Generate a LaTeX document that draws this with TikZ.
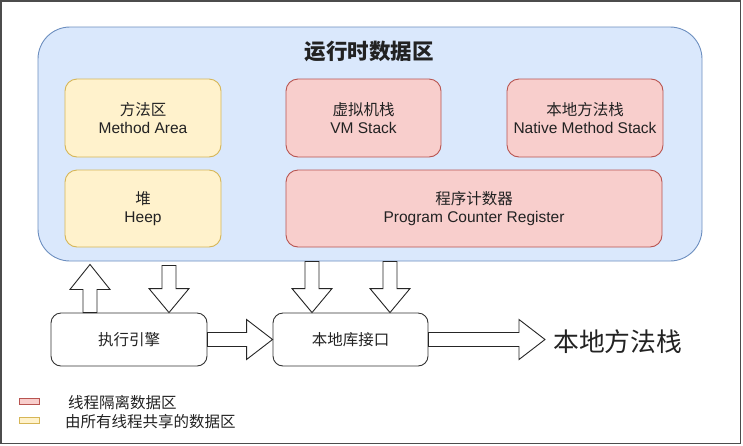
\documentclass[tikz,border=0pt]{standalone}
\usepackage{fontspec}
\setmainfont{Liberation Sans}
\newfontfamily\cjk{Noto Sans CJK SC}
\usetikzlibrary{calc}
\definecolor{bluefill}{HTML}{DAE8FC}
\definecolor{blueline}{HTML}{6C8EBF}
\definecolor{yelfill}{HTML}{FFF2CC}
\definecolor{yelline}{HTML}{D6B656}
\definecolor{pnkfill}{HTML}{F8CECC}
\definecolor{pnkline}{HTML}{B85450}
\definecolor{textc}{HTML}{222222}
\tikzset{
  box/.style={draw, rounded corners=12pt, line width=0.9pt, inner sep=0pt, align=center,
    font=\fontsize{15.5}{18}\selectfont, text=textc},
  yel/.style={box, fill=yelfill, draw=yelline, minimum width=156pt, minimum height=78pt},
  pnk/.style={box, fill=pnkfill, draw=pnkline, minimum height=78pt},
  wht/.style={box, fill=white, draw=black!80, rounded corners=10pt, minimum width=156pt, minimum height=53pt},
  blockarrow/.style={draw=black!85, fill=white, line width=0.9pt, line join=miter},
  legbox/.style={draw, line width=0.8pt, inner sep=0pt, minimum width=20pt, minimum height=6pt},
  legtext/.style={anchor=west, inner sep=0pt, font=\fontsize{15.5}{18}\selectfont\cjk, text=textc}
}
\newcommand\barrowdn[2]{\draw[blockarrow] ($(#1)+(-7,0)$) -- ($(#1)+(7,0)$) -- ($(#2)+(7,-24)$) -- ($(#2)+(20,-24)$) -- (#2) -- ($(#2)+(-20,-24)$) -- ($(#2)+(-7,-24)$) -- cycle;}
\newcommand\barrowup[2]{\draw[blockarrow] ($(#1)+(-7,0)$) -- ($(#1)+(7,0)$) -- ($(#2)+(7,25)$) -- ($(#2)+(20,25)$) -- (#2) -- ($(#2)+(-20,25)$) -- ($(#2)+(-7,25)$) -- cycle;}
\newcommand\barrowrt[2]{\draw[blockarrow] ($(#1)+(0,-7)$) -- ($(#2)+(-26,-7)$) -- ($(#2)+(-26,-20)$) -- (#2) -- ($(#2)+(-26,20)$) -- ($(#2)+(-26,7)$) -- ($(#1)+(0,7)$) -- cycle;}
\begin{document}
\begin{tikzpicture}[x=1pt, y=-1pt]
\useasboundingbox (0,0) rectangle (743,445);
\draw[line width=1.2pt, draw=black!70] (1,1) rectangle (740.5,443.5);

% runtime data area
\node[draw=blueline, fill=bluefill, line width=0.9pt, rounded corners=32pt, minimum width=664pt, minimum height=234pt, inner sep=0pt] (run) at (370,144) {};
\node[inner sep=0pt, font=\fontsize{21.5}{24}\selectfont\cjk\bfseries, text=textc] (title) at (369,51) {运行时数据区};

\node[yel] (ma) at (143,118) {{\cjk 方法区}\\Method Area};
\node[pnk, minimum width=155pt] (vm) at (363.5,118) {{\cjk 虚拟机栈}\\VM Stack};
\node[pnk, minimum width=156pt] (nms) at (585,118) {{\cjk 本地方法栈}\\Native Method Stack};
\node[yel, minimum height=77pt] (heap) at (143,208.5) {{\cjk 堆}\\Heep};
\node[pnk, minimum width=376pt, minimum height=77pt] (pcr) at (474,208.5) {{\cjk 程序计数器}\\Program Counter Register};

% bottom boxes
\node[wht] (exec) at (129,339.5) {\cjk 执行引擎};
\node[wht, minimum width=155pt] (lib) at (350.5,339.5) {\cjk 本地库接口};
\node[inner sep=0pt, anchor=west, font=\fontsize{25.8}{30}\selectfont\cjk, text=textc] (nlabel) at (553,342) {本地方法栈};

% connector end points
\coordinate (u1s) at ($(exec.north)+(-39,0)$);
\coordinate (u1e) at ($(u1s |- run.south)+(0,3)$);
\coordinate (d1e) at ($(exec.north)+(40,0)$);
\coordinate (d1s) at ($(d1e |- run.south)+(0,4)$);
\coordinate (d2e) at ($(lib.north)+(-38.5,0)$);
\coordinate (d2s) at (d2e |- run.south);
\coordinate (d3e) at ($(lib.north)+(39.5,0)$);
\coordinate (d3s) at (d3e |- run.south);
\coordinate (r2e) at ($(nlabel.west |- lib.east)+(-8,0)$);

\barrowup{u1s}{u1e}
\barrowdn{d1s}{d1e}
\barrowdn{d2s}{d2e}
\barrowdn{d3s}{d3e}
\barrowrt{exec.east}{lib.west}
\barrowrt{lib.east}{r2e}

% legend
\node[legbox, fill=pnkfill, draw=pnkline] (leg1) at (29,401) {};
\node[legbox, fill=yelfill, draw=yelline] (leg2) at (29,420.5) {};
\node[legtext] (leg1t) at (68,403) {线程隔离数据区};
\node[legtext] (leg2t) at (65,422) {由所有线程共享的数据区};
\end{tikzpicture}
\end{document}
